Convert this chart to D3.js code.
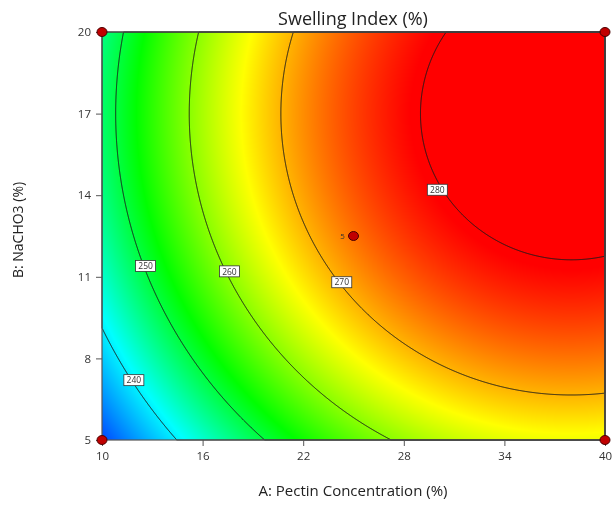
<!DOCTYPE html>
<html>
<head>
<meta charset="utf-8">
<script src="https://cdn.jsdelivr.net/npm/d3@7"></script>
<style>
  html, body { margin: 0; padding: 0; background: #fff; }
  #wrap { position: relative; width: 613px; height: 505px; }
  canvas, svg { position: absolute; left: 0; top: 0; }
  text { font-family: "Open Sans", "Noto Sans", sans-serif; }
</style>
</head>
<body>
<div id="wrap">
  <canvas id="fill" width="613" height="505"></canvas>
  <svg id="chart" width="613" height="505"></svg>
</div>
<script>
// Factor ranges and tick labels
const pectinTicks = [10, 16, 22, 28, 34, 40];
const nachoTicks = [5, 8, 11, 14, 17, 20];
const contourLevels = [240, 250, 260, 270, 280];

// Fitted quadratic model: Y = b0 + bA*A + bB*B + bAA*A^2 + bBB*B^2 + bAB*A*B
const modelTermNames = ["b0", "bA", "bB", "bAA", "bBB", "bAB"];
const modelCoefficients = [180.86, 3.4656, 4.352, -0.0456, -0.128, 0];

// Design points (A, B) and replicate counts
const designA = [10, 40, 10, 40, 25];
const designB = [5, 5, 20, 20, 12.5];
const designReps = [1, 1, 1, 1, 5];

// Contour label anchor points (A, B, level)
const labelA = [11.9, 12.6, 17.6, 24.3, 30.0];
const labelB = [7.2, 11.4, 11.2, 10.8, 14.2];
const labelLevel = [240, 250, 260, 270, 280];

// Colour stops along the response
const colorValues = [229.5, 241, 253, 266, 279.5];
const colorStops = ["#0046ff", "#00ffff", "#00ff00", "#ffff00", "#ff0000"];

const coef = Object.fromEntries(modelTermNames.map((n, i) => [n, modelCoefficients[i]]));
const predict = (A, B) => coef.b0 + coef.bA * A + coef.bB * B + coef.bAA * A * A + coef.bBB * B * B + coef.bAB * A * B;

const plot = { left: 102, right: 605, top: 32, bottom: 440 };
const x = d3.scaleLinear().domain([10, 40]).range([plot.left, plot.right]);
const y = d3.scaleLinear().domain([5, 20]).range([plot.bottom, plot.top]);
const color = d3.scaleLinear().domain(colorValues).range(colorStops).clamp(true);

// Gradient fill, one sample per pixel
const nx = plot.right - plot.left, ny = plot.bottom - plot.top;
const ctx = document.getElementById("fill").getContext("2d");
const img = ctx.createImageData(nx, ny);
const grid = new Float64Array(nx * ny);
for (let j = 0; j < ny; j++) {
  const B = y.invert(plot.top + j + 0.5);
  for (let i = 0; i < nx; i++) {
    const A = x.invert(plot.left + i + 0.5);
    const v = predict(A, B);
    grid[j * nx + i] = v;
    const c = d3.rgb(color(v));
    const k = (j * nx + i) * 4;
    img.data[k] = c.r; img.data[k + 1] = c.g; img.data[k + 2] = c.b; img.data[k + 3] = 255;
  }
}
ctx.putImageData(img, plot.left, plot.top);

const svg = d3.select("#chart");

// Contour lines
const contours = d3.contours().size([nx, ny]).thresholds(contourLevels)(grid);
const toPx = d3.geoTransform({
  point(px, py) { this.stream.point(plot.left + px, plot.top + py); }
});
svg.append("g")
  .selectAll("path")
  .data(contours)
  .join("path")
  .attr("d", d3.geoPath(toPx))
  .attr("fill", "none")
  .attr("stroke", "#1a1a1a")
  .attr("stroke-width", 1);

// Frame
svg.append("rect")
  .attr("x", plot.left).attr("y", plot.top)
  .attr("width", nx).attr("height", ny)
  .attr("fill", "none").attr("stroke", "#555").attr("stroke-width", 1.2);

// Axes
const xAxis = svg.append("g")
  .attr("transform", `translate(0,${plot.bottom})`)
  .call(d3.axisBottom(x).tickValues(pectinTicks).tickSize(6).tickPadding(6));
const yAxis = svg.append("g")
  .attr("transform", `translate(${plot.left},0)`)
  .call(d3.axisLeft(y).tickValues(nachoTicks).tickSize(6).tickPadding(5));
[xAxis, yAxis].forEach(g => {
  g.select(".domain").remove();
  g.selectAll(".tick line").attr("stroke", "#555");
  g.selectAll(".tick text").attr("fill", "#333").style("font-size", "11.5px")
    .style("font-family", '"Open Sans", "Noto Sans", sans-serif');
});

// Contour value labels
const labels = svg.append("g");
labelLevel.forEach((lv, i) => {
  const cx = x(labelA[i]), cy = y(labelB[i]);
  labels.append("rect")
    .attr("x", cx - 10).attr("y", cy - 5.5)
    .attr("width", 20).attr("height", 11)
    .attr("fill", "#fff").attr("stroke", "#333").attr("stroke-width", 0.8);
  labels.append("text")
    .attr("x", cx).attr("y", cy + 3.2)
    .attr("text-anchor", "middle")
    .style("font-size", "8.5px").attr("fill", "#333")
    .text(lv);
});

// Design points
const pts = svg.append("g");
designA.forEach((a, i) => {
  const cx = x(a), cy = y(designB[i]);
  pts.append("ellipse")
    .attr("cx", cx).attr("cy", cy).attr("rx", 5).attr("ry", 4.5)
    .attr("fill", "#c00000").attr("stroke", "#4a0000").attr("stroke-width", 1);
  if (designReps[i] > 1) {
    pts.append("text")
      .attr("x", cx - 11).attr("y", cy + 3)
      .attr("text-anchor", "middle")
      .style("font-size", "8px").attr("fill", "#333")
      .text(designReps[i]);
  }
});

// Titles
svg.append("text")
  .attr("x", 353).attr("y", 25)
  .attr("text-anchor", "middle")
  .style("font-size", "18px").attr("fill", "#222")
  .text("Swelling Index (%)");
svg.append("text")
  .attr("x", 353).attr("y", 496)
  .attr("text-anchor", "middle")
  .style("font-size", "15px").attr("fill", "#222")
  .text("A: Pectin Concentration (%)");
svg.append("text")
  .attr("transform", `translate(23,${230}) rotate(-90)`)
  .attr("text-anchor", "middle")
  .style("font-size", "14px").attr("fill", "#222")
  .text("B: NaCHO3 (%)");
</script>
</body>
</html>
